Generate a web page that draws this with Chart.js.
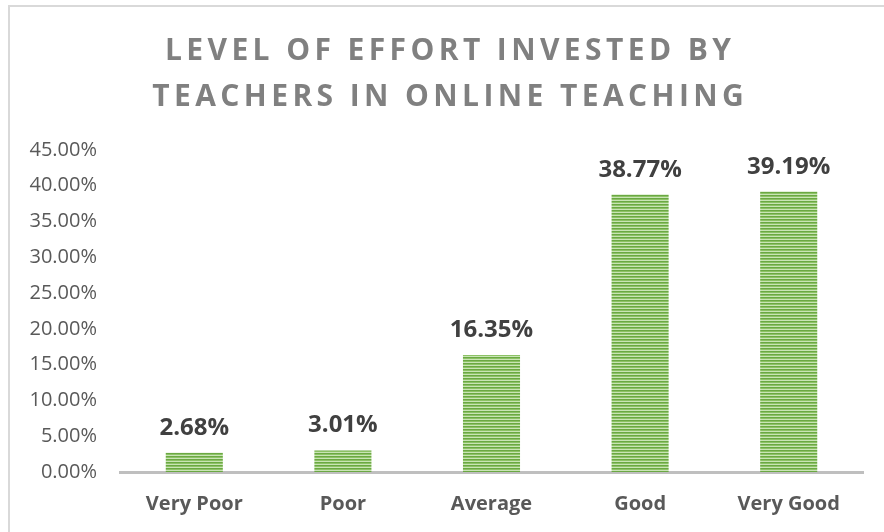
<!DOCTYPE html>
<html><head><meta charset="utf-8">
<script src="https://cdn.jsdelivr.net/npm/chart.js@4/dist/chart.umd.min.js"></script>
<style>html,body{margin:0;padding:0;background:#fff;overflow:hidden}#wrap{width:884px;height:532px;position:relative}</style>
</head><body><div id="wrap"><canvas id="c" width="884" height="532"></canvas></div>
<script>
const categories = ['Very Poor', 'Poor', 'Average', 'Good', 'Very Good'];
const values = [2.68, 3.01, 16.35, 38.77, 39.19];
const titleLines = ['LEVEL OF EFFORT INVESTED BY', 'TEACHERS IN ONLINE TEACHING'];
const yMin = 0, yMax = 45, yStep = 5;

function makePattern(ctx) {
  const p = document.createElement('canvas');
  p.width = 4; p.height = 3;
  const g = p.getContext('2d');
  g.fillStyle = '#6ba843'; g.fillRect(0, 0, 4, 1);
  g.fillStyle = '#8cc265'; g.fillRect(0, 1, 4, 1);
  g.fillStyle = '#c9e4b5'; g.fillRect(0, 2, 4, 1);
  return ctx.createPattern(p, 'repeat');
}

const frame = {
  id: 'frame',
  beforeDraw(chart) {
    const ctx = chart.ctx;
    ctx.save();
    ctx.fillStyle = '#ffffff';
    ctx.fillRect(0, 0, chart.width, chart.height);
    ctx.strokeStyle = '#d9d9d9';
    ctx.lineWidth = 2;
    ctx.strokeRect(9, 6, chart.width + 20, chart.height + 20);
    ctx.restore();
  },
  afterDraw(chart) {
    const ctx = chart.ctx;
    ctx.save();
    ctx.font = 'bold 30px "Open Sans"';
    ctx.fillStyle = '#808080';
    ctx.textAlign = 'center';
    ctx.textBaseline = 'alphabetic';
    const sp = 4.4;
    ctx.letterSpacing = sp + 'px';
    const cx = 448 + sp / 2;
    ctx.fillText(titleLines[0], cx, 60);
    ctx.fillText(titleLines[1], cx, 106);
    ctx.restore();
  }
};

const dataLabels = {
  id: 'dataLabels',
  afterDatasetsDraw(chart) {
    const ctx = chart.ctx;
    const meta = chart.getDatasetMeta(0);
    ctx.save();
    ctx.font = 'bold 24px "Open Sans"';
    ctx.fillStyle = '#404040';
    ctx.textAlign = 'center';
    ctx.textBaseline = 'alphabetic';
    meta.data.forEach((bar, i) => {
      ctx.fillText(values[i].toFixed(2) + '%', bar.x, bar.y - 18);
    });
    ctx.restore();
  }
};

function draw() {
  const ctx = document.getElementById('c').getContext('2d');
  new Chart(ctx, {
    type: 'bar',
    data: {
      labels: categories,
      datasets: [{
        data: values,
        backgroundColor: makePattern(ctx),
        borderWidth: 0,
        categoryPercentage: 1,
        barPercentage: 0.384
      }]
    },
    options: {
      responsive: false,
      animation: false,
      layout: { padding: { left: 0, top: 150, right: 21, bottom: 0 } },
      plugins: { legend: { display: false }, title: { display: false }, tooltip: { enabled: false } },
      scales: {
        x: {
          grid: { display: false, drawTicks: false },
          border: { display: true, color: '#bfbfbf', width: 3 },
          ticks: { color: '#595959', font: { family: '"Open Sans"', size: 20, weight: 'bold' }, padding: 20, maxRotation: 0 },
          afterFit(s) { s.height = 60; }
        },
        y: {
          min: yMin, max: yMax,
          grid: { display: false, drawTicks: false },
          border: { display: false },
          ticks: {
            stepSize: yStep,
            color: '#595959',
            font: { family: '"Open Sans"', size: 20 },
            padding: 23,
            callback: v => v.toFixed(2) + '%'
          },
          afterFit(s) { s.width = 120; }
        }
      }
    },
    plugins: [frame, dataLabels]
  });
}
Promise.all([
  document.fonts.load('bold 30px "Open Sans"'),
  document.fonts.load('20px "Open Sans"')
]).then(draw, draw);
</script>
</body></html>
